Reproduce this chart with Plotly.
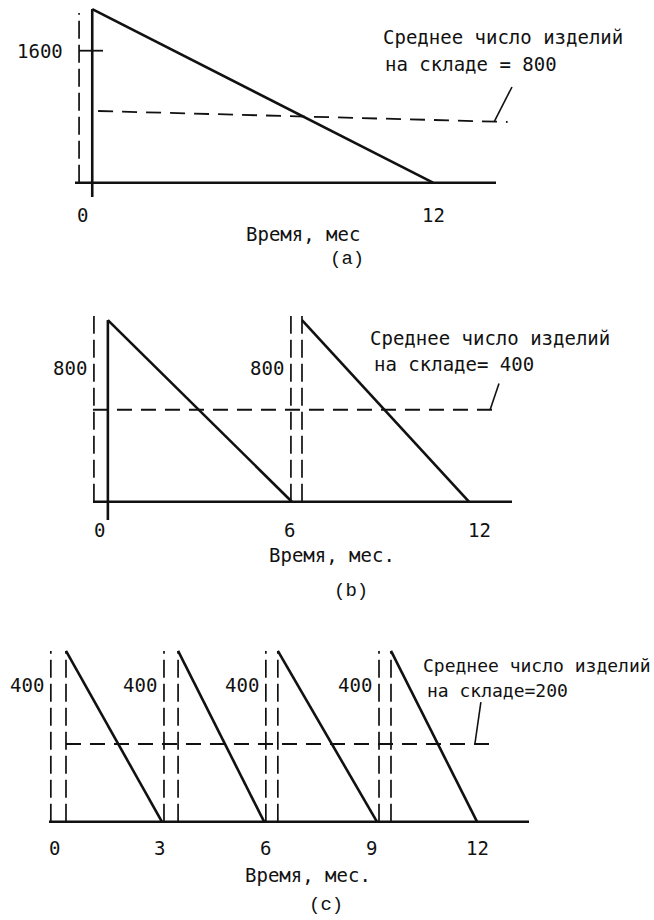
import plotly.graph_objects as go

W, H = 654, 920

# ---------------- data ----------------
# panel (a): one order of 1600 per year
a_xticks = [0, 12]
a_yticks = [1600]
a_cycle_start = [0.35]
a_cycle_end = [12.0]
a_cycle_peak = [2105]
a_avg_t = [0.55, 14.55]
a_avg_v = [869, 736]
a_guides = [-0.10]
a_leader_t = [14.09, 14.70]
a_leader_v = [736, 1160]
a_avg_label = ["Среднее число изделий", "на складе = 800"]

# panel (b): two orders of 800
b_xticks = [0, 6, 12]
b_cycle_start = [0.28, 6.41]
b_cycle_end = [6.09, 11.68]
b_cycle_peak = [800, 800]
b_avg_t = [-0.19, 12.6]
b_avg_v = [405, 405]
b_guides = [-0.16, 6.06, 6.41]
b_leader_t = [12.35, 12.63]
b_leader_v = [405, 521]
b_level_labels = ["800", "800"]
b_avg_label = ["Среднее число изделий", "на складе= 400"]

# panel (c): four orders of 400
c_xticks = [0, 3, 6, 9, 12]
c_cycle_start = [0.34, 3.52, 6.35, 9.56]
c_cycle_end = [3.06, 5.96, 9.16, 12.0]
c_cycle_peak = [400, 400, 400, 400]
c_avg_t = [0.34, 12.43]
c_avg_v = [182, 182]
c_guides = [-0.09, 0.34, 3.12, 3.52, 6.01, 6.35, 9.22, 9.56]
c_leader_t = [11.94, 12.11]
c_leader_v = [182, 280]
c_level_labels = ["400", "400", "400", "400"]
c_avg_label = ["Среднее число изделий", "на складе=200"]

x_titles = ["Время, мес", "Время, мес.", "Время, мес."]
panel_tags = ["(a)", "(b)", "(c)"]

# ---------------- layout geometry (pixels) ----------------
FONT = "DejaVu Sans Mono, monospace"
TAGFONT = "Liberation Mono, DejaVu Sans Mono, monospace"
BLACK = "#111111"
FS = 19

panels = [
    dict(x0=82, sx=29.25, y0=182.7, sy=0.0825, box=(0, 654, 0, 205),
         base=(75, 496), axis_bottom=197, guide_top=13, tick_y=215,
         title=(303, 234), tag=(347, 259), label_lines=[(381, 37), (383, 64)],
         label_fs=19, level_y=None),
    dict(x0=99, sx=31.67, y0=501.7, sy=0.227, box=(0, 654, 300, 525),
         base=(93, 512), axis_bottom=520, guide_top=316, tick_y=530,
         title=(332, 555), tag=(351, 591), label_lines=[(368, 338), (372, 364)],
         label_fs=19, level_y=368),
    dict(x0=54, sx=35.25, y0=821.7, sy=0.427, box=(0, 654, 630, 835),
         base=(49, 529), axis_bottom=None, guide_top=651, tick_y=848,
         title=(308, 875), tag=(326, 905), label_lines=[(421, 665), (425, 690)],
         label_fs=18, level_y=685),
]

data_sets = [
    dict(xt=a_xticks, start=a_cycle_start, end=a_cycle_end, peak=a_cycle_peak,
         avg_t=a_avg_t, avg_v=a_avg_v, guides=a_guides, lt=a_leader_t, lv=a_leader_v,
         lbl=a_avg_label, levels=None, solid_axis=True),
    dict(xt=b_xticks, start=b_cycle_start, end=b_cycle_end, peak=b_cycle_peak,
         avg_t=b_avg_t, avg_v=b_avg_v, guides=b_guides, lt=b_leader_t, lv=b_leader_v,
         lbl=b_avg_label, levels=b_level_labels, solid_axis=True),
    dict(xt=c_xticks, start=c_cycle_start, end=c_cycle_end, peak=c_cycle_peak,
         avg_t=c_avg_t, avg_v=c_avg_v, guides=c_guides, lt=c_leader_t, lv=c_leader_v,
         lbl=c_avg_label, levels=c_level_labels, solid_axis=False),
]


def tx(p, px):
    return (px - p["x0"]) / p["sx"]


def vy(p, py):
    return (p["y0"] - py) / p["sy"]


fig = go.Figure()
annotations = []
layout_axes = {}

for i, (p, d) in enumerate(zip(panels, data_sets)):
    n = "" if i == 0 else str(i + 1)
    xa, ya = "x" + n, "y" + n
    L, R, T, B = p["box"]
    layout_axes["xaxis" + n] = dict(domain=[L / W, R / W], range=[tx(p, L), tx(p, R)],
                                    visible=False, anchor=ya, fixedrange=True)
    layout_axes["yaxis" + n] = dict(domain=[1 - B / H, 1 - T / H], range=[vy(p, B), vy(p, T)],
                                    visible=False, anchor=xa, fixedrange=True)
    solid = dict(color=BLACK, width=2.6)
    guide = dict(color=BLACK, width=1.7, dash="18px,6px")
    avgline = dict(color=BLACK, width=1.8, dash="15px,9px")

    # baseline
    fig.add_trace(go.Scatter(x=[tx(p, p["base"][0]), tx(p, p["base"][1])], y=[0, 0],
                             mode="lines", line=solid, xaxis=xa, yaxis=ya, hoverinfo="skip"))
    # dashed guides at order moments
    gx, gy = [], []
    for g in d["guides"]:
        gx += [g, g, None]
        gy += [0, vy(p, p["guide_top"]), None]
    fig.add_trace(go.Scatter(x=gx, y=gy, mode="lines", line=guide, xaxis=xa, yaxis=ya,
                             hoverinfo="skip"))
    # sawtooth inventory
    sx_, sy_ = [], []
    for s, e, pk in zip(d["start"], d["end"], d["peak"]):
        sx_ += [s, e, None]
        sy_ += [pk, 0, None]
    fig.add_trace(go.Scatter(x=sx_, y=sy_, mode="lines", line=solid, xaxis=xa, yaxis=ya,
                             hoverinfo="skip"))
    # solid vertical axis
    if d["solid_axis"]:
        fig.add_trace(go.Scatter(x=[d["start"][0], d["start"][0]],
                                 y=[vy(p, p["axis_bottom"]), d["peak"][0]],
                                 mode="lines", line=solid, xaxis=xa, yaxis=ya, hoverinfo="skip"))
    # average stock line
    fig.add_trace(go.Scatter(x=d["avg_t"], y=d["avg_v"], mode="lines", line=avgline,
                             xaxis=xa, yaxis=ya, hoverinfo="skip"))
    # leader line
    fig.add_trace(go.Scatter(x=d["lt"], y=d["lv"], mode="lines",
                             line=dict(color=BLACK, width=1.6), xaxis=xa, yaxis=ya,
                             hoverinfo="skip"))
    # x tick labels (x through the panel's axis, y in page units)
    for t in d["xt"]:
        annotations.append(dict(x=t, y=1 - p["tick_y"] / H, xref=xa, yref="paper",
                                text=str(t), showarrow=False, xanchor="center",
                                yanchor="middle",
                                font=dict(family=FONT, size=FS, color=BLACK)))
    # level labels beside the guides
    if d["levels"]:
        left_guides = d["guides"][0::2] if i == 2 else [d["guides"][0], d["guides"][1]]
        for g, lab in zip(left_guides, d["levels"]):
            annotations.append(dict(x=g, y=vy(p, p["level_y"]), xref=xa, yref=ya, text=lab,
                                    showarrow=False, xanchor="right", yanchor="middle",
                                    xshift=-5,
                                    font=dict(family=FONT, size=FS, color=BLACK)))
    # average label text
    for (lx, ly), line in zip(p["label_lines"], d["lbl"]):
        annotations.append(dict(x=lx / W, y=1 - ly / H, xref="paper", yref="paper", text=line,
                                showarrow=False, xanchor="left", yanchor="middle",
                                font=dict(family=FONT, size=p["label_fs"], color=BLACK)))
    # axis title and panel tag
    annotations.append(dict(x=p["title"][0] / W, y=1 - p["title"][1] / H, xref="paper",
                            yref="paper", text=x_titles[i], showarrow=False,
                            xanchor="center", yanchor="middle",
                            font=dict(family=FONT, size=FS, color=BLACK)))
    annotations.append(dict(x=p["tag"][0] / W, y=1 - p["tag"][1] / H, xref="paper",
                            yref="paper", text=panel_tags[i], showarrow=False,
                            xanchor="center", yanchor="middle",
                            font=dict(family=TAGFONT, size=19, color=BLACK)))

# y tick of panel (a)
pa = panels[0]
for v in a_yticks:
    fig.add_trace(go.Scatter(x=[tx(pa, 79), tx(pa, 103)], y=[v, v], mode="lines",
                             line=dict(color=BLACK, width=1.8), xaxis="x", yaxis="y",
                             hoverinfo="skip"))
    annotations.append(dict(x=a_guides[0], y=v, xref="x", yref="y", text=str(v),
                            showarrow=False, xanchor="right", yanchor="middle", xshift=-14,
                            font=dict(family=FONT, size=FS, color=BLACK)))

fig.update_layout(width=W, height=H, autosize=False,
                  margin=dict(l=0, r=0, t=0, b=0),
                  paper_bgcolor="white", plot_bgcolor="rgba(0,0,0,0)",
                  showlegend=False, annotations=annotations, **layout_axes)

fig.write_html("out.html", config=dict(displayModeBar=False),
               post_script="document.body.style.margin='0';document.body.style.padding='0';")
